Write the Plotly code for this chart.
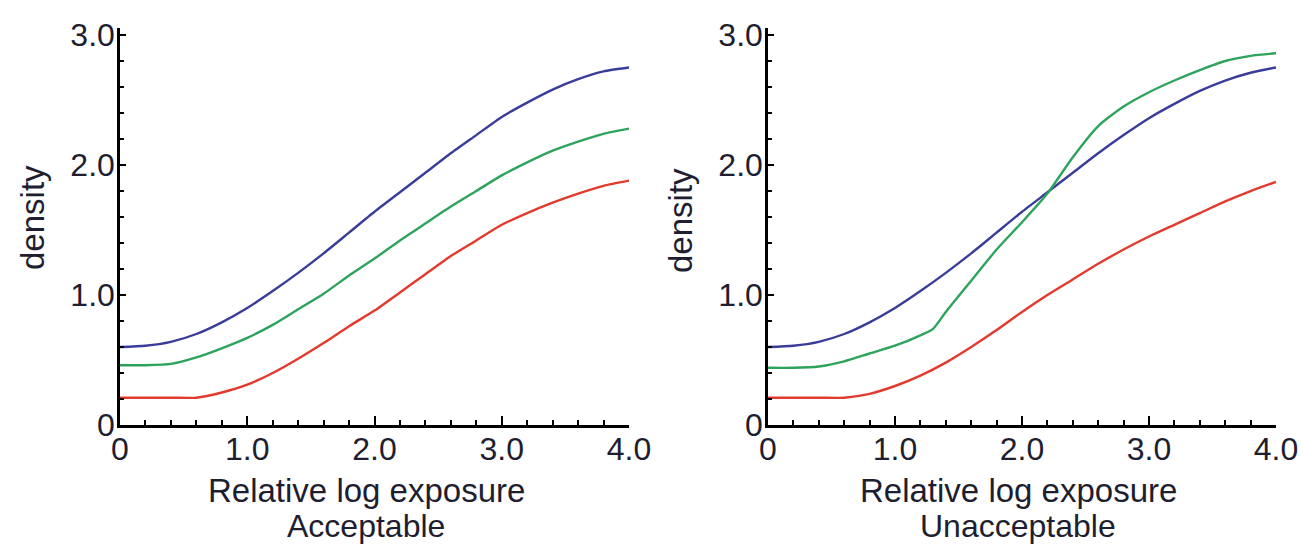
import plotly.graph_objects as go

# ---- data ----
x_grid = [0, 0.2, 0.4, 0.6, 0.8, 1.0, 1.2, 1.4, 1.6, 1.8, 2.0, 2.2, 2.4, 2.6, 2.8, 3.0, 3.2, 3.4, 3.6, 3.8, 4.0]

acc_blue = [0.60, 0.61, 0.64, 0.70, 0.79, 0.90, 1.03, 1.17, 1.32, 1.48, 1.64, 1.79, 1.94, 2.09, 2.23, 2.37, 2.48, 2.58, 2.66, 2.72, 2.75]
acc_green = [0.46, 0.46, 0.47, 0.52, 0.59, 0.67, 0.77, 0.89, 1.01, 1.15, 1.28, 1.42, 1.55, 1.68, 1.80, 1.92, 2.02, 2.11, 2.18, 2.24, 2.28]
acc_red = [0.21, 0.21, 0.21, 0.21, 0.25, 0.31, 0.40, 0.51, 0.63, 0.76, 0.88, 1.02, 1.16, 1.30, 1.42, 1.54, 1.63, 1.71, 1.78, 1.84, 1.88]

unacc_blue = [0.60, 0.61, 0.64, 0.70, 0.79, 0.90, 1.03, 1.17, 1.32, 1.48, 1.64, 1.79, 1.94, 2.09, 2.23, 2.36, 2.47, 2.57, 2.65, 2.71, 2.75]
unacc_green_x = [0, 0.2, 0.4, 0.6, 0.8, 1.0, 1.2, 1.3, 1.4, 1.6, 1.8, 2.0, 2.2, 2.4, 2.6, 2.8, 3.0, 3.2, 3.4, 3.6, 3.8, 4.0]
unacc_green = [0.44, 0.44, 0.45, 0.49, 0.55, 0.61, 0.69, 0.74, 0.87, 1.11, 1.35, 1.56, 1.78, 2.06, 2.30, 2.45, 2.56, 2.65, 2.73, 2.80, 2.84, 2.86]
unacc_red = [0.21, 0.21, 0.21, 0.21, 0.24, 0.30, 0.38, 0.48, 0.60, 0.73, 0.87, 1.00, 1.12, 1.24, 1.35, 1.45, 1.54, 1.63, 1.72, 1.80, 1.87]

x_tickvals = [0, 1, 2, 3, 4]
x_ticktext = ["0", "1.0", "2.0", "3.0", "4.0"]
y_tickvals = [0, 1, 2, 3]
y_ticktext = ["0", "1.0", "2.0", "3.0"]
x_title = "Relative log exposure"
panel_titles = ["Acceptable", "Unacceptable"]
y_title = "density"

BLUE = "#3a3c9a"
GREEN = "#2ea35c"
RED = "#e23a2c"
TXT = "#1e1e30"
FONT = "Liberation Sans, Arial, sans-serif"

W, H = 1301, 546

fig = go.Figure()

def add(x, y, color, xa, ya):
    fig.add_trace(go.Scatter(x=x, y=y, mode="lines", xaxis=xa, yaxis=ya,
                             line=dict(color=color, width=2.4, shape="spline", smoothing=0.6),
                             showlegend=False, hoverinfo="skip"))

add(x_grid, acc_blue, BLUE, "x", "y")
add(x_grid, acc_green, GREEN, "x", "y")
add(x_grid, acc_red, RED, "x", "y")
add(x_grid, unacc_blue, BLUE, "x2", "y2")
add(unacc_green_x, unacc_green, GREEN, "x2", "y2")
add(x_grid, unacc_red, RED, "x2", "y2")

y_bot_px, y_top_px = 425, 28
ydom = [1 - y_bot_px / H, 1 - y_top_px / H]

def xaxis(dom, anchor):
    return dict(domain=dom, anchor=anchor, range=[0, 4.0], showgrid=False, zeroline=False,
                automargin=False,
                showline=True, linecolor="black", linewidth=2.5,
                tickmode="array", tickvals=x_tickvals, ticktext=x_ticktext,
                ticks="inside", ticklen=9, tickwidth=2, tickcolor="black",
                minor=dict(dtick=0.2, tick0=0, ticks="inside", ticklen=5, tickwidth=2, tickcolor="black"),
                tickfont=dict(family=FONT, size=32, color=TXT), ticklabelstandoff=-6)

def yaxis(anchor):
    return dict(domain=ydom, anchor=anchor, range=[0, 3.054], showgrid=False, zeroline=False,
                automargin=False,
                showline=True, linecolor="black", linewidth=2.5,
                tickmode="array", tickvals=y_tickvals, ticktext=y_ticktext,
                ticks="inside", ticklen=6, tickwidth=2, tickcolor="black",
                minor=dict(dtick=0.2, tick0=0, ticks="inside", ticklen=4, tickwidth=2, tickcolor="black"),
                tickfont=dict(family=FONT, size=32, color=TXT), ticklabelstandoff=-4)

left_dom = [120 / W, 629 / W]
right_dom = [768 / W, 1276 / W]

fig.update_layout(
    width=W, height=H,
    margin=dict(l=0, r=0, t=0, b=0),
    paper_bgcolor="white", plot_bgcolor="white",
    xaxis=xaxis(left_dom, "y"), yaxis=yaxis("x"),
    xaxis2=xaxis(right_dom, "y2"), yaxis2=yaxis("x2"),
)

def ann(text, xpx, ypx, angle=0, size=33):
    fig.add_annotation(text=text, x=xpx / W, y=1 - ypx / H, xref="paper", yref="paper",
                       showarrow=False, textangle=angle, xanchor="center", yanchor="middle",
                       font=dict(family=FONT, size=size, color=TXT))

ann(y_title, 32, 218, -90)
ann(y_title, 680, 221, -90)
ann(x_title, 366, 490)
ann(x_title, 1018, 490)
ann(panel_titles[0], 366, 526, size=32)
ann(panel_titles[1], 1018, 526, size=32)

fig.write_html(
    "out.html",
    config={"displayModeBar": False},
    post_script="document.body.style.margin='0';document.body.style.padding='0';"
                "document.body.style.overflow='hidden';",
)
